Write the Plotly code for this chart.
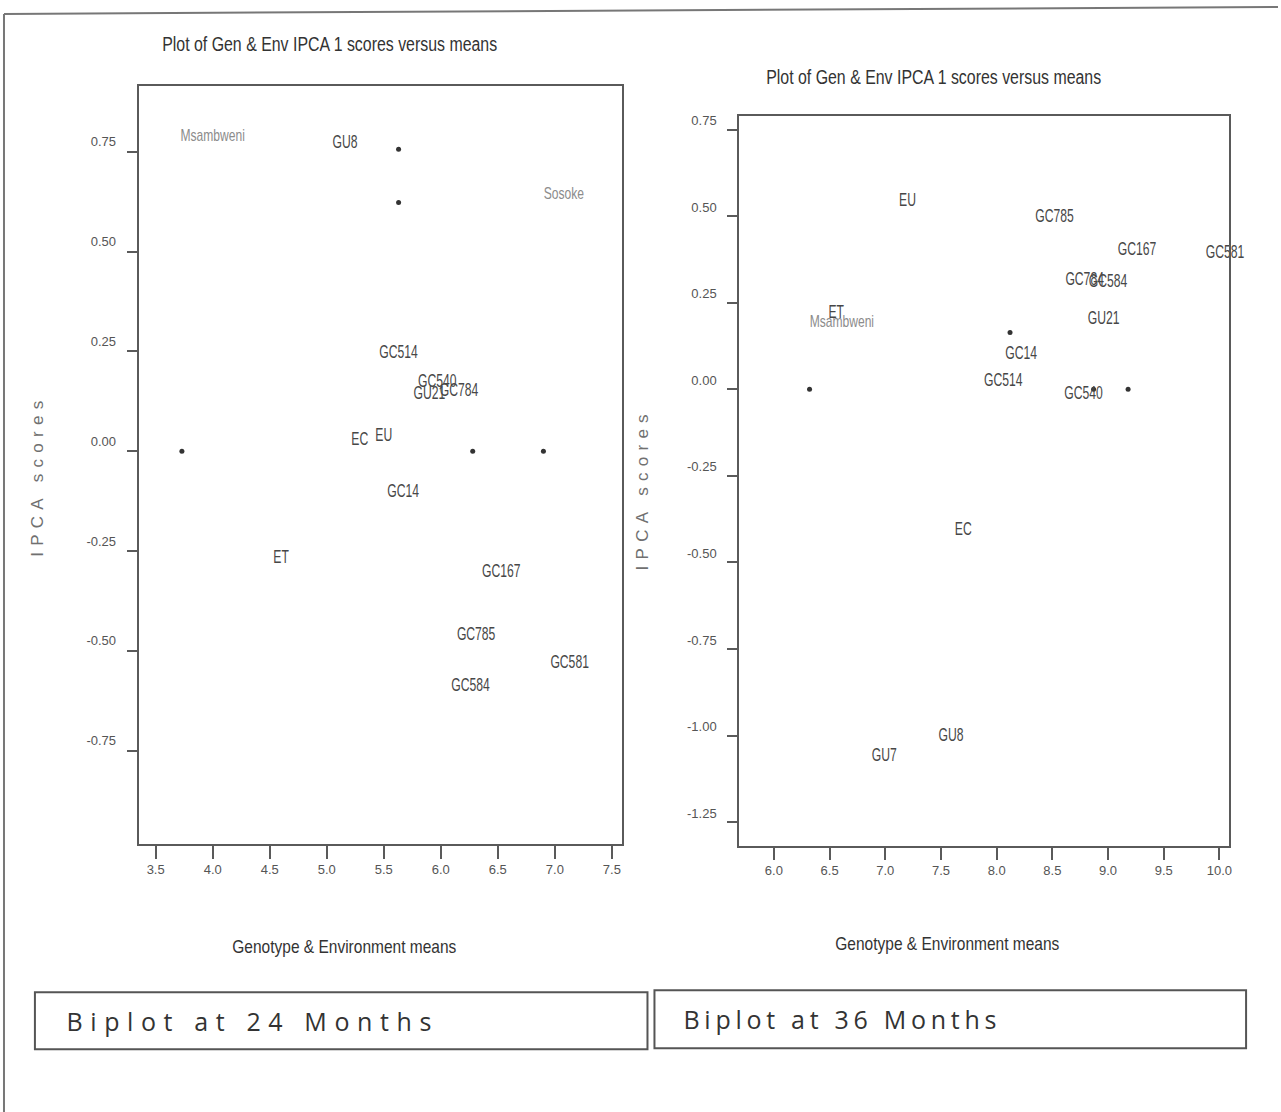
import plotly.graph_objects as go

W, H = 1281, 1112

# ---------------- data: Biplot at 24 months ----------------
gen24_labels = ["GU8", "GC514", "GC540", "GU21", "GC784", "EU", "EC", "GC14",
                "ET", "GC167", "GC785", "GC581", "GC584"]
gen24_x = [5.16, 5.63, 5.97, 5.90, 6.16, 5.50, 5.29, 5.67, 4.60, 6.53, 6.31, 7.13, 6.26]
gen24_y = [0.772, 0.246, 0.172, 0.143, 0.150, 0.038, 0.027, -0.104, -0.267,
           -0.302, -0.460, -0.531, -0.588]
env24_labels = ["Msambweni", "Sosoke"]
env24_x = [4.00, 7.08]
env24_y = [0.788, 0.643]
dots24_x = [5.63, 5.63, 3.73, 6.28, 6.90]
dots24_y = [0.756, 0.623, 0.0, 0.0, 0.0]

# ---------------- data: Biplot at 36 months ----------------
gen36_labels = ["EU", "GC785", "GC167", "GC581", "GC784", "GC584", "ET", "GU21",
                "GC14", "GC514", "GC540", "EC", "GU8", "GU7"]
gen36_x = [7.20, 8.52, 9.26, 10.05, 8.79, 9.00, 6.56, 8.96, 8.22, 8.06, 8.78, 7.70, 7.59, 6.99]
gen36_y = [0.542, 0.497, 0.401, 0.392, 0.316, 0.309, 0.220, 0.201, 0.100, 0.023,
           -0.015, -0.407, -1.003, -1.060]
env36_labels = ["Msambweni"]
env36_x = [6.61]
env36_y = [0.191]
dots36_x = [8.12, 6.32, 9.18, 8.87]
dots36_y = [0.164, 0.0, 0.0, 0.0]

x24_ticks = [3.5, 4.0, 4.5, 5.0, 5.5, 6.0, 6.5, 7.0, 7.5]
y24_ticks = [-0.75, -0.50, -0.25, 0.00, 0.25, 0.50, 0.75]
x36_ticks = [6.0, 6.5, 7.0, 7.5, 8.0, 8.5, 9.0, 9.5, 10.0]
y36_ticks = [-1.25, -1.00, -0.75, -0.50, -0.25, 0.00, 0.25, 0.50, 0.75]

plot_title = "Plot of Gen & Env IPCA 1 scores versus means"
x_title = "Genotype & Environment means"
y_title = "IPCA scores"
panel_labels = ["Biplot at 24 Months", "Biplot at 36 Months"]

LAB = "#474747"
ENV = "#8c8c8c"
AX = "#5a5a5a"
FONT = "Liberation Sans, Arial, sans-serif"

def px(x):
    return x / W

def py(y):
    return 1 - y / H

fig = go.Figure()

def add_panel(xa, ya, gl, gx, gy, el, ex, ey, dx, dy):
    fig.add_trace(go.Scatter(x=dx, y=dy, mode="markers", xaxis=xa, yaxis=ya,
                             marker=dict(size=5, color="#333333"),
                             showlegend=False, hoverinfo="skip"))
    fig.add_trace(go.Scatter(x=gx, y=gy, text=gl, mode="text", xaxis=xa, yaxis=ya,
                             textposition="middle center", cliponaxis=False,
                             textfont=dict(family=FONT, size=19, color=LAB),
                             showlegend=False, hoverinfo="skip"))
    fig.add_trace(go.Scatter(x=ex, y=ey, text=el, mode="text", xaxis=xa, yaxis=ya,
                             textposition="middle center", cliponaxis=False,
                             textfont=dict(family=FONT, size=17, color=ENV),
                             showlegend=False, hoverinfo="skip"))

add_panel("x", "y", gen24_labels, gen24_x, gen24_y, env24_labels, env24_x, env24_y,
          dots24_x, dots24_y)
add_panel("x2", "y2", gen36_labels, gen36_x, gen36_y, env36_labels, env36_x, env36_y,
          dots36_x, dots36_y)

axis_common = dict(showgrid=False, zeroline=False, showline=True, linecolor=AX,
                   linewidth=2, mirror=True, ticks="outside", tickcolor=AX,
                   tickwidth=1.5, tickfont=dict(family=FONT, size=13, color="#555555"))

fig.update_layout(
    width=W, height=H,
    margin=dict(l=0, r=0, t=0, b=0),
    paper_bgcolor="white", plot_bgcolor="white",
    xaxis=dict(domain=[px(139), px(623)], range=[3.351, 7.585], anchor="y",
               tickvals=x24_ticks, ticktext=[f"{v:.1f}" for v in x24_ticks],
               ticklen=13, **axis_common),
    yaxis=dict(domain=[py(843), py(83)], range=[-0.983, 0.915], anchor="x",
               tickvals=y24_ticks, ticktext=[f"{v:.2f}" for v in y24_ticks],
               ticklen=10, ticklabelshift=-10, ticklabelstandoff=8, **axis_common),
    xaxis2=dict(domain=[px(741), px(1232)], range=[5.689, 10.087], anchor="y2",
                tickvals=x36_ticks, ticktext=[f"{v:.1f}" for v in x36_ticks],
                ticklen=12, **axis_common),
    yaxis2=dict(domain=[py(845), py(113)], range=[-1.318, 0.790], anchor="x2",
                tickvals=y36_ticks, ticktext=[f"{v:.2f}" for v in y36_ticks],
                ticklen=10, ticklabelshift=-9, ticklabelstandoff=8, **axis_common),
)

ann = []
def A(text, x, y, size, color, family=FONT, angle=0):
    ann.append(dict(text=text, x=px(x), y=py(y), xref="paper", yref="paper",
                    showarrow=False, textangle=angle, xanchor="center", yanchor="middle",
                    font=dict(family=family, size=size, color=color)))

A(plot_title, 330, 41, 20, "#333333")
A(plot_title, 936, 74, 20, "#333333")
A(x_title, 345, 946, 19, "#333333")
A(x_title, 950, 943, 19, "#333333")
A(y_title, 38, 477, 17, "#707070", angle=-90)
A(y_title, 644, 490, 17, "#707070", angle=-90)
A(panel_labels[0], 250, 1021, 25, "#333333", family="Open Sans, Lato, sans-serif")
A(panel_labels[1], 842, 1019, 25, "#333333", family="Open Sans, Lato, sans-serif")
fig.update_layout(annotations=ann)

shapes = [
    dict(type="rect", xref="paper", yref="paper", x0=px(35), x1=px(649), y0=py(1049), y1=py(992),
         line=dict(color="#555555", width=2)),
    dict(type="rect", xref="paper", yref="paper", x0=px(656), x1=px(1249), y0=py(1048), y1=py(990),
         line=dict(color="#555555", width=2)),
    dict(type="line", xref="paper", yref="paper", x0=px(4), x1=px(4), y0=0, y1=py(11),
         line=dict(color="#777777", width=2)),
    dict(type="line", xref="paper", yref="paper", x0=px(4), x1=1, y0=py(11), y1=py(4),
         line=dict(color="#777777", width=2)),
]
fig.update_layout(shapes=shapes)

post = """
(function(){
  var gd = document.getElementById('{plot_id}');
  var fixed = {
    'Plot of Gen & Env IPCA 1 scores versus means': [335, 'spacingAndGlyphs'],
    'Genotype & Environment means': [224, 'spacingAndGlyphs'],
    'IPCA scores': [156, 'spacing'],
    'Biplot at 24 Months': [365, 'spacing'],
    'Biplot at 36 Months': [313, 'spacing']
  };
  function tgt(t){ return (t.children.length === 1) ? t.children[0] : t; }
  function apply(){
    gd.querySelectorAll('text').forEach(function(t){
      var s = t.textContent;
      if (t.closest('.textpoint')) {
        if (!t.dataset.w) { t.dataset.w = t.getComputedTextLength(); }
        var f = (s === 'Msambweni' || s === 'Sosoke') ? 0.71 : 0.64;
        t.setAttribute('textLength', (parseFloat(t.dataset.w) * f).toFixed(1));
        t.setAttribute('lengthAdjust', 'spacingAndGlyphs');
      } else if (fixed[s]) {
        var e = tgt(t);
        e.setAttribute('textLength', fixed[s][0]);
        e.setAttribute('lengthAdjust', fixed[s][1]);
      }
    });
  }
  apply();
  setTimeout(apply, 50);
  if (gd.on) { gd.on('plotly_afterplot', apply); }
})();
"""

fig.write_html("out.html", post_script=post)
